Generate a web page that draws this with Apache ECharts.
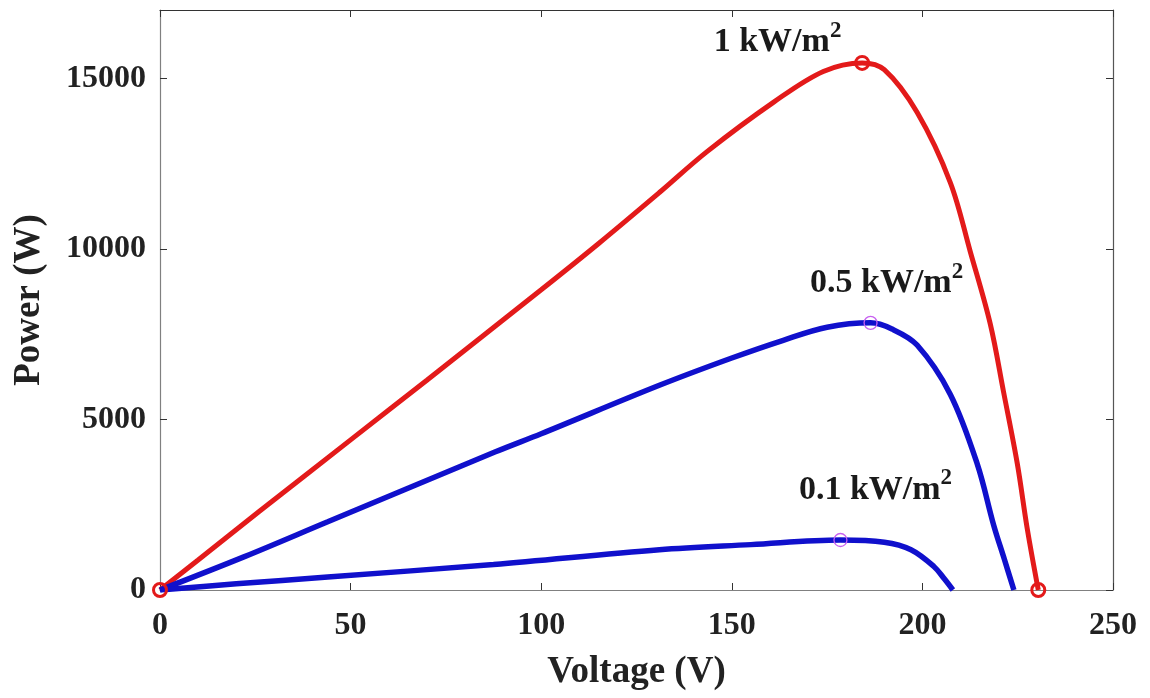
<!DOCTYPE html>
<html>
<head>
<meta charset="utf-8">
<script src="https://cdn.jsdelivr.net/npm/echarts@6/dist/echarts.min.js"></script>
<style>
  html, body { margin: 0; padding: 0; background: #fff; }
  #chart { width: 1150px; height: 698px; }
</style>
</head>
<body>
<div id="chart"></div>
<script>
// P-V curves, [voltage (V), power (W)]
let curve1000 = [[0, 0], [10, 880], [26, 2300], [50, 4400], [70, 6150], [100, 8800], [115, 10150],
  [131, 11650], [143.5, 12850], [161, 14300], [174, 15200], [184.2, 15450], [190, 15250],
  [198.6, 14000], [207.3, 11950], [212.6, 9900], [217.8, 7800], [221.3, 5800], [224.9, 3700],
  [227.5, 1800], [230.4, 0]];
let curve500 = [[0, 0], [22, 970], [44, 2000], [88, 4050], [100, 4580], [131, 6000], [150, 6800],
  [163.5, 7320], [175, 7700], [186.4, 7830], [192, 7650], [198.6, 7180], [207.3, 5740],
  [214.4, 3690], [218.7, 1900], [221.5, 900], [224, 0]];
let curve100 = [[0, 0], [20, 180], [44, 380], [87.5, 750], [131, 1180], [155, 1330], [178.5, 1465],
  [190, 1400], [197, 1180], [203, 690], [205.8, 320], [208, 0]];

// operating points marked with circles
let redPoints = [[0, 0], [184.2, 15450], [230.4, 0]];
let mppPoints = [[186.4, 7830], [178.5, 1465]];

// irradiance labels: [V, P, text]
let labels = [[162, 16050, '1 kW/m'], [190.6, 8990, '0.5 kW/m'], [187.7, 2930, '0.1 kW/m']];

let xTicks = {min: 0, max: 250, interval: 50};
let yTicks = {min: 0, max: 17000, interval: 5000};

let font = 'Liberation Serif, Times New Roman, serif';

let chart = echarts.init(document.getElementById('chart'));

let boxAxis = (color) => ({
  axisLine: {show: true, onZero: false, lineStyle: {color: color, width: 1.2}},
  axisTick: {show: true, inside: true, length: 7, lineStyle: {color: '#333'}},
  splitLine: {show: false}
});

chart.setOption({
  animation: false,
  backgroundColor: '#fff',
  grid: {left: 160, right: 37, top: 10, bottom: 108},
  xAxis: [
    Object.assign({
      type: 'value', position: 'bottom',
      min: xTicks.min, max: xTicks.max, interval: xTicks.interval,
      name: 'Voltage (V)', nameLocation: 'middle', nameGap: 64,
      nameTextStyle: {fontFamily: font, fontWeight: 'bold', fontSize: 37, color: '#222'},
      axisLabel: {fontFamily: font, fontWeight: 'bold', fontSize: 32, color: '#222', margin: 20}
    }, boxAxis('#808080')),
    Object.assign({
      type: 'value', position: 'top',
      min: xTicks.min, max: xTicks.max, interval: xTicks.interval,
      axisLabel: {show: false}
    }, boxAxis('#333'))
  ],
  yAxis: [
    Object.assign({
      type: 'value', position: 'left',
      min: yTicks.min, max: yTicks.max, interval: yTicks.interval,
      name: 'Power (W)', nameLocation: 'middle', nameGap: 112,
      nameTextStyle: {fontFamily: font, fontWeight: 'bold', fontSize: 37, color: '#222'},
      axisLabel: {fontFamily: font, fontWeight: 'bold', fontSize: 32, color: '#222', margin: 14,
        showMaxLabel: false, formatter: (v) => String(v)}
    }, boxAxis('#808080')),
    Object.assign({
      type: 'value', position: 'right',
      min: yTicks.min, max: yTicks.max, interval: yTicks.interval,
      axisLabel: {show: false}
    }, boxAxis('#555'))
  ],
  series: [
    {
      name: '1 kW/m2', type: 'line', data: curve1000,
      showSymbol: false, smooth: 0.35,
      lineStyle: {color: '#e31a1a', width: 5}
    },
    {
      name: '0.5 kW/m2', type: 'line', data: curve500,
      showSymbol: false, smooth: 0.35,
      lineStyle: {color: '#1010cc', width: 5.5}
    },
    {
      name: '0.1 kW/m2', type: 'line', data: curve100,
      showSymbol: false, smooth: 0.35,
      lineStyle: {color: '#1010cc', width: 5.5}
    },
    {
      type: 'scatter', data: redPoints, symbol: 'circle', symbolSize: 13, z: 5,
      itemStyle: {color: 'rgba(255,255,255,0)', borderColor: '#e31a1a', borderWidth: 3, opacity: 1}
    },
    {
      type: 'scatter', data: mppPoints, symbol: 'circle', symbolSize: 13, z: 5,
      itemStyle: {color: 'rgba(255,255,255,0)', borderColor: '#c860f0', borderWidth: 1.3, opacity: 1}
    },
    {
      type: 'scatter', data: labels, symbolSize: 0, silent: true, z: 6,
      itemStyle: {opacity: 1},
      label: {
        show: true, position: 'inside', color: '#1a1a1a', textBorderWidth: 0,
        formatter: (p) => '{b|' + p.data[2] + '}{s|2}',
        rich: {
          b: {fontFamily: font, fontWeight: 'bold', fontSize: 34, color: '#1a1a1a',
            lineHeight: 46, textBorderWidth: 0},
          s: {fontFamily: font, fontWeight: 'bold', fontSize: 23, color: '#1a1a1a',
            verticalAlign: 'top', textBorderWidth: 0}
        }
      }
    }
  ]
});
</script>
</body>
</html>
